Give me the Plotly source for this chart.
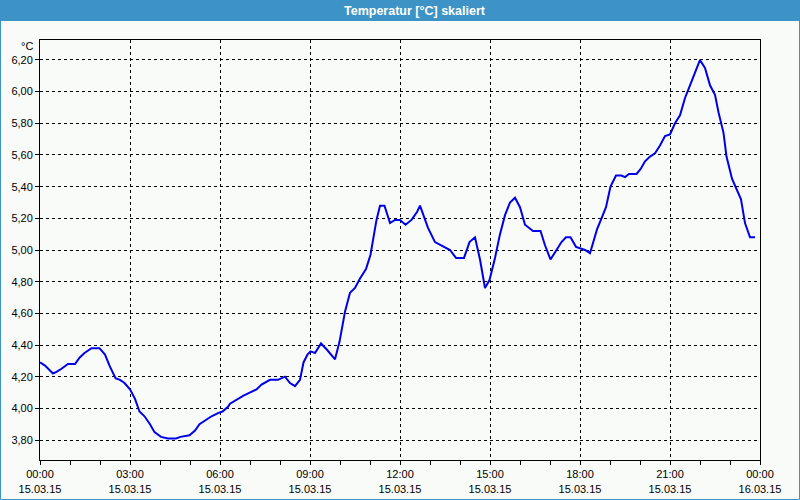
import pandas as pd
import plotly.graph_objects as go

# ---------------- data ----------------
times = [
    "00:00", "00:10", "00:26", "00:33", "00:43", "00:56", "01:10", "01:19", "01:29", "01:43",
    "01:59", "02:10", "02:19", "02:31", "02:40", "02:49", "03:00", "03:10", "03:19", "03:29",
    "03:40", "03:49", "04:02", "04:16", "04:32", "04:41", "04:59", "05:10", "05:19", "05:29",
    "05:43", "05:56", "06:05", "06:16", "06:20", "06:47", "07:13", "07:23", "07:40", "07:56",
    "08:10", "08:20", "08:30", "08:40", "08:47", "08:55", "09:01", "09:10", "09:22", "09:34",
    "09:50", "09:59", "10:10", "10:20", "10:30", "10:40", "10:52", "11:01", "11:08", "11:13",
    "11:20", "11:29", "11:40", "11:50", "12:00", "12:11", "12:23", "12:34", "12:40", "12:47",
    "12:56", "13:10", "13:23", "13:40", "13:52", "14:08", "14:19", "14:30", "14:40", "14:50",
    "14:59", "15:10", "15:20", "15:30", "15:40", "15:50", "16:00", "16:10", "16:26", "16:41",
    "16:50", "17:01", "17:13", "17:23", "17:32", "17:41", "17:52", "18:03", "18:10", "18:20",
    "18:25", "18:34", "18:43", "18:52", "19:01", "19:12", "19:23", "19:30", "19:38", "19:53",
    "20:01", "20:10", "20:20", "20:30", "20:40", "20:50", "21:00", "21:10", "21:20", "21:30",
    "21:40", "21:50", "22:00", "22:10", "22:20", "22:30", "22:37", "22:47", "22:53", "23:04",
    "23:13", "23:22", "23:30", "23:40", "23:50",
]
temperature = [
    4.29, 4.27, 4.22, 4.23, 4.25, 4.28, 4.28, 4.32, 4.35, 4.38,
    4.38, 4.34, 4.27, 4.19, 4.18, 4.16, 4.12, 4.06, 3.98, 3.95,
    3.90, 3.85, 3.82, 3.81, 3.81, 3.82, 3.83, 3.86, 3.90, 3.92,
    3.95, 3.97, 3.98, 4.01, 4.03, 4.08, 4.12, 4.15, 4.18, 4.18,
    4.20, 4.16, 4.14, 4.18, 4.29, 4.34, 4.36, 4.35, 4.41, 4.37,
    4.31, 4.42, 4.61, 4.73, 4.76, 4.82, 4.88, 4.97, 5.11, 5.19,
    5.28, 5.28, 5.17, 5.19, 5.19, 5.16, 5.19, 5.24, 5.28, 5.22,
    5.14, 5.05, 5.03, 5.00, 4.95, 4.95, 5.05, 5.08, 4.94, 4.76,
    4.81, 4.95, 5.10, 5.22, 5.30, 5.33, 5.27, 5.16, 5.12, 5.12,
    5.03, 4.94, 5.00, 5.05, 5.08, 5.08, 5.02, 5.01, 5.00, 4.98,
    5.04, 5.13, 5.20, 5.27, 5.40, 5.47, 5.47, 5.46, 5.48, 5.48,
    5.51, 5.56, 5.59, 5.61, 5.66, 5.72, 5.73, 5.80, 5.85, 5.96,
    6.04, 6.12, 6.20, 6.15, 6.04, 5.98, 5.87, 5.74, 5.59, 5.45,
    5.38, 5.32, 5.17, 5.08, 5.08,
]
day = "2015-03-15"

x_tickvals = ["2015-03-15 00:00", "2015-03-15 03:00", "2015-03-15 06:00", "2015-03-15 09:00",
              "2015-03-15 12:00", "2015-03-15 15:00", "2015-03-15 18:00", "2015-03-15 21:00",
              "2015-03-16 00:00"]
x_ticktext = ["00:00<br>15.03.15", "03:00<br>15.03.15", "06:00<br>15.03.15", "09:00<br>15.03.15",
              "12:00<br>15.03.15", "15:00<br>15.03.15", "18:00<br>15.03.15", "21:00<br>15.03.15",
              "00:00<br>16.03.15"]
y_tickvals = [3.8, 4.0, 4.2, 4.4, 4.6, 4.8, 5.0, 5.2, 5.4, 5.6, 5.8, 6.0, 6.2]
y_ticktext = ["3,80", "4,00", "4,20", "4,40", "4,60", "4,80", "5,00", "5,20", "5,40", "5,60",
              "5,80", "6,00", "6,20"]
title_text = "Temperatur [°C] skaliert"
unit_text = "°C"

# ---------------- figure ----------------
W, H = 800, 500
ML, MR, MT, MB = 40, 40, 40, 40
PW, PH = W - ML - MR, H - MT - MB


def px_x(px):
    return (px - ML) / PW


def px_y(py):
    return (H - MB - py) / PH


x = pd.to_datetime([f"{day} {t}" for t in times])

BG = "#f9fbf9"
BAR = "#3d93c5"
FONT = "Liberation Sans, Arial, sans-serif"

fig = go.Figure()
fig.add_trace(go.Scatter(
    x=x, y=temperature, mode="lines",
    line=dict(color="#0000e8", width=2),
    showlegend=False, hoverinfo="skip",
))

fig.update_layout(
    width=W, height=H,
    margin=dict(l=ML, r=MR, t=MT, b=MB, pad=0, autoexpand=False),
    paper_bgcolor=BG, plot_bgcolor=BG,
    font=dict(family=FONT, size=11, color="#000000"),
    showlegend=False,
    xaxis=dict(
        type="date", automargin=False,
        range=["2015-03-15 00:00", "2015-03-16 00:00"],
        tickmode="array", tickvals=x_tickvals, ticktext=x_ticktext,
        ticks="outside", ticklen=4, tickcolor="#000000", tickwidth=1,
        showgrid=True, gridcolor="#000000", gridwidth=1, griddash="3px,3px",
        showline=True, linecolor="#000000", linewidth=1, mirror=True,
        zeroline=False,
        minor=dict(dtick=3600000, tick0="2015-03-15 00:00", ticks="outside",
                   ticklen=4, tickcolor="#000000", showgrid=False),
        tickfont=dict(family=FONT, size=11, color="#000000"),
        fixedrange=True,
    ),
    yaxis=dict(
        automargin=False,
        range=[3.674, 6.326],
        tickmode="array", tickvals=y_tickvals, ticktext=y_ticktext,
        ticks="outside", ticklen=4, tickcolor="#000000", tickwidth=1,
        showgrid=True, gridcolor="#000000", gridwidth=1, griddash="3px,3px",
        showline=True, linecolor="#000000", linewidth=1, mirror=True,
        zeroline=False,
        tickfont=dict(family=FONT, size=11, color="#000000"),
        fixedrange=True,
    ),
    shapes=[
        # title bar
        dict(type="rect", xref="paper", yref="paper",
             x0=px_x(0), x1=px_x(W), y0=px_y(21), y1=px_y(0),
             fillcolor=BAR, line=dict(width=0), layer="above"),
        # window frame
        dict(type="rect", xref="paper", yref="paper",
             x0=px_x(0.5), x1=px_x(W - 0.5), y0=px_y(H - 0.5), y1=px_y(0),
             fillcolor="rgba(0,0,0,0)", line=dict(color=BAR, width=1), layer="above"),
    ],
    annotations=[
        dict(text=f"<b>{title_text}</b>", xref="paper", yref="paper",
             x=px_x(415), y=px_y(10.5), xanchor="center", yanchor="middle",
             showarrow=False, font=dict(family=FONT, size=12.5, color="#ffffff")),
        dict(text=unit_text, xref="paper", yref="paper",
             x=px_x(35), y=px_y(46), xanchor="right", yanchor="middle",
             showarrow=False, font=dict(family=FONT, size=11, color="#000000")),
    ],
)

fig.write_html("out.html")
